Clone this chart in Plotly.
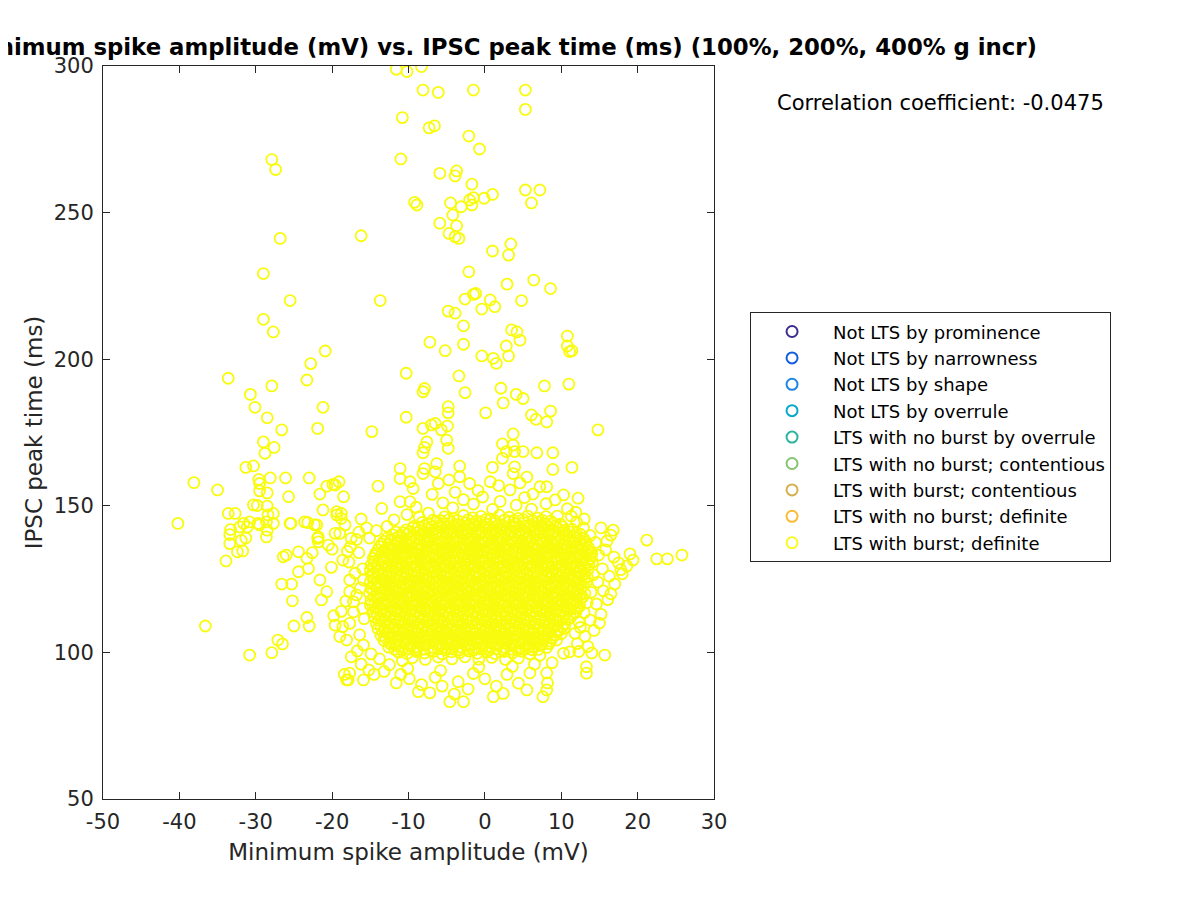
import plotly.graph_objects as go

# legend categories (only the last one has points in this plot)
categories = ['Not LTS by prominence', 'Not LTS by narrowness', 'Not LTS by shape',
              'Not LTS by overrule', 'LTS with no burst by overrule',
              'LTS with no burst; contentious', 'LTS with burst; contentious',
              'LTS with no burst; definite', 'LTS with burst; definite']
cat_colors = ['#3e2b8f', '#0f5fe0', '#1e86e0', '#0aa8c8', '#2cb59e',
              '#85c373', '#d6b04f', '#fcbb34', '#f9fb0e']

x_ticks = [-50, -40, -30, -20, -10, 0, 10, 20, 30]
x_tick_text = ['-50', '-40', '-30', '-20', '-10', '0', '10', '20', '30']
y_ticks = [50, 100, 150, 200, 250, 300]
corr_coef = -0.0475

# (amplitude mV, IPSC peak time ms)
upper_pts = [
    (-27.9, 268.1), (-27.4, 264.7), (-26.8, 241.2), (-16.2, 242.1), (-29.0, 229.2), (-25.5, 220.0),
    (-29.0, 213.6), (-27.7, 209.3), (-20.9, 202.8), (-22.8, 198.5), (-23.3, 192.9), (-33.6, 193.5),
    (-27.9, 190.9), (-30.7, 188.0), (-30.1, 183.6), (-21.2, 183.6), (-28.5, 180.0), (-13.7, 220.0),
    (-21.9, 176.4), (-26.6, 175.9), (-14.8, 175.3), (-29.0, 171.8), (-27.6, 169.9), (-28.8, 167.9),
    (-31.3, 163.1), (-30.3, 163.6),
    (-11.6, 298.9), (-10.2, 298.1), (-8.3, 299.8), (-8.1, 291.8), (-6.1, 291.0), (-1.5, 291.8),
    (5.3, 291.8), (5.3, 285.2), (-10.8, 282.4), (-7.3, 278.9), (-6.6, 279.6), (-2.1, 276.1),
    (-0.7, 271.7), (-11.0, 268.3), (-5.9, 263.4), (-3.7, 264.2), (-3.9, 262.5), (-1.7, 259.7),
    (5.3, 257.7), (7.2, 257.7), (6.1, 253.3), (-9.2, 253.5), (-8.9, 252.6), (-4.5, 253.3),
    (-3.1, 252.0), (-2.0, 254.3), (-1.5, 255.1), (-1.7, 252.6), (-0.1, 254.9), (1.0, 256.2),
    (-4.2, 249.2), (-5.9, 246.4), (-3.7, 245.5), (-4.7, 242.9), (-3.9, 241.8), (-3.4, 241.2),
    (1.0, 236.9), (3.4, 239.3), (3.1, 235.5), (-2.1, 229.8), (-2.6, 220.5), (-1.5, 222.1),
    (-1.2, 222.4), (0.7, 220.2), (1.3, 217.9), (-0.4, 217.1), (2.9, 225.6), (6.4, 227.0),
    (8.6, 224.1), (4.8, 220.0), (-4.8, 216.4), (-3.9, 215.7), (-2.8, 211.4), (-7.2, 205.8),
    (-5.2, 202.9), (-2.8, 205.1), (-0.4, 201.1), (2.8, 204.5), (3.5, 210.0), (4.2, 209.3),
    (4.6, 206.5), (3.1, 201.1), (1.1, 200.3), (1.5, 198.6), (10.8, 207.9), (10.8, 204.5),
    (11.4, 202.9), (11.1, 202.6), (-10.3, 195.2), (-3.4, 194.3), (-7.9, 190.0), (-8.1, 188.9),
    (-2.6, 188.6), (2.1, 190.1), (4.1, 188.0), (5.0, 186.6), (7.8, 190.9), (11.0, 191.5),
    (-10.3, 180.2), (-4.8, 183.8), (-4.8, 181.7), (0.1, 181.7), (2.4, 185.1), (6.1, 181.0),
    (6.7, 179.5), (8.1, 178.6), (8.6, 182.3), (-8.1, 176.4), (-7.0, 177.6), (-6.5, 178.1),
    (-5.7, 175.9), (-4.9, 177.2), (-7.6, 171.8), (-7.9, 169.9), (-8.1, 168.1), (-5.0, 172.4),
    (-4.8, 169.6), (14.8, 175.9), (3.7, 174.5), (2.3, 171.1), (3.7, 170.7), (2.8, 168.5),
    (3.9, 168.5), (5.0, 168.5), (6.8, 168.1), (8.9, 168.1), (2.3, 166.2), (1.0, 163.1),
    (3.9, 163.3), (3.7, 161.0), (8.9, 162.4), (11.4, 163.1), (-6.3, 164.4), (-7.9, 162.7),
    (-11.1, 162.7), (-8.1, 161.0), (-6.5, 161.6), (-3.3, 163.5),
]

mid_pts = [
    (-14.0, 156.7), (-13.5, 149.1), (-11.1, 159.3), (-11.1, 151.4), (-9.8, 158.2), (-9.4, 155.9),
    (-9.8, 151.4), (-9.0, 149.5), (-6.1, 157.6), (-4.7, 158.8), (-3.3, 159.9), (-2.0, 157.6),
    (0.7, 158.2), (-5.5, 151.0), (-4.2, 149.3), (-2.8, 152.1), (-1.5, 150.6), (-0.3, 153.0),
    (1.0, 148.8), (2.0, 151.5), (3.3, 155.4), (4.1, 150.2), (5.2, 152.8), (6.1, 148.9),
    (7.2, 156.5), (8.1, 156.5), (8.0, 150.7), (9.2, 152.0), (10.3, 153.7), (12.2, 152.6),
    (10.8, 149.0), (11.9, 147.8), (13.0, 145.5), (-7.4, 147.5), (-8.6, 146.2), (-10.2, 147.0),
    (-11.9, 145.2), (-12.8, 143.0), (-14.2, 141.5), (-15.1, 139.0), (5.5, 159.8), (6.3, 154.0),
    (-0.9, 155.2), (-3.9, 154.6), (-6.9, 153.9), (1.8, 156.9), (4.6, 157.8), (9.5, 146.5),
    (-16.2, 145.5), (-15.5, 142.5), (-16.8, 138.5),
]

left_pts = [
    (-38.1, 157.9), (-35.0, 155.4), (-40.2, 144.0), (-33.6, 147.4), (-32.7, 147.4), (-30.3, 150.3),
    (-29.8, 150.1), (-28.5, 149.9), (-33.3, 141.9), (-33.4, 140.2), (-31.6, 144.0), (-31.1, 142.8),
    (-29.5, 143.5), (-28.5, 141.7), (-27.7, 144.0), (-27.7, 147.4), (-25.4, 144.0), (-23.6, 144.5),
    (-23.2, 144.3), (-22.3, 143.5), (-21.2, 148.6), (-19.4, 146.9), (-18.8, 147.4), (-21.9, 138.9),
    (-19.6, 140.6), (-19.0, 140.6), (-17.5, 138.9), (-33.4, 137.1), (-31.9, 138.2), (-31.3, 139.0),
    (-28.6, 139.4), (-33.9, 131.2), (-32.4, 134.3), (-31.7, 134.6), (-32.1, 142.8), (-30.8, 144.5),
    (-29.7, 144.0), (-28.6, 144.5), (-28.4, 146.9), (-29.6, 159.0), (-28.1, 159.5), (-26.1, 159.5),
    (-23.0, 159.5), (-29.5, 157.6), (-29.5, 155.1), (-28.5, 154.4), (-25.7, 153.1), (-21.6, 154.0),
    (-20.7, 156.7), (-19.9, 157.3), (-19.1, 158.2), (-18.5, 153.1), (-26.0, 133.2), (-26.4, 132.6),
    (-24.4, 134.3), (-26.6, 123.3), (-25.3, 123.3), (-25.2, 117.6), (-24.4, 127.5), (-23.1, 128.6),
    (-22.6, 134.0), (-21.6, 124.7), (-20.7, 120.7), (-21.4, 117.9), (-20.1, 129.0), (-20.5, 136.6),
    (-20.0, 135.2), (-21.8, 137.7), (-18.6, 131.5), (-17.8, 130.8), (-36.6, 109.0), (-30.8, 99.1),
    (-27.9, 99.9), (-27.1, 104.2), (-26.5, 102.9), (-25.0, 109.0), (-23.3, 111.9), (-23.0, 109.0),
    (-19.6, 109.3), (-19.0, 105.4), (-18.6, 108.8), (-18.1, 104.2), (-17.5, 98.5), (-17.7, 92.9),
    (-18.1, 90.6), (-17.7, 109.9), (-17.2, 113.8), (-17.2, 117.2), (-16.8, 119.6), (-17.7, 120.7),
    (-17.7, 124.7), (-15.9, 124.7), (-18.3, 143.5), (-18.8, 145.7), (-19.4, 148.0), (-19.6, 157.1),
    (-25.5, 144.0), (-22.0, 143.5), (-21.8, 139.4), (-23.3, 132.1), (-16.5, 134.0), (-16.0, 128.5),
    (-16.3, 122.0), (-16.0, 115.0), (-15.8, 111.5), (-16.4, 106.0), (-15.9, 102.5), (-16.2, 96.0),
    (-15.2, 94.0), (-18.4, 92.5), (-16.7, 100.5), (-17.0, 127.0), (-18.2, 117.5), (-18.8, 114.0),
    (-19.8, 112.5), (-16.5, 141.0), (-17.6, 136.0), (-18.0, 134.5),
]

bottom_pts = [
    (-17.9, 90.6), (-15.9, 90.6), (-14.5, 92.5), (-13.2, 93.5), (-12.5, 95.8), (-11.6, 89.6),
    (-11.0, 92.5), (-10.1, 94.5), (-9.9, 91.0), (-8.7, 86.6), (-8.3, 89.0), (-7.2, 86.2),
    (-6.5, 91.5), (-5.8, 93.8), (-5.6, 88.5), (-4.6, 83.2), (-4.0, 85.8), (-3.5, 90.0),
    (-2.8, 83.2), (-2.2, 87.5), (-1.5, 92.8), (-0.8, 95.0), (0.0, 91.0), (1.1, 84.9),
    (1.5, 88.5), (2.4, 86.0), (2.9, 92.5), (3.6, 95.2), (4.4, 89.5), (5.5, 87.2),
    (5.9, 93.0), (6.5, 96.0), (7.6, 84.9), (8.1, 87.2), (8.2, 89.6), (8.1, 93.0),
    (7.2, 99.0), (8.8, 96.5), (10.3, 99.7), (11.1, 100.2), (12.1, 103.0), (13.3, 95.1),
    (13.3, 92.9), (14.0, 99.8), (15.7, 99.1), (-13.8, 97.8), (-10.8, 97.2), (-14.9, 99.5),
]

right_pts = [
    (21.2, 138.3), (22.5, 131.9), (23.9, 131.9), (25.8, 133.2), (19.0, 133.6), (19.4, 131.5),
    (18.6, 129.5), (17.0, 123.3), (16.8, 141.7), (16.5, 140.0), (16.0, 138.0), (15.2, 142.5),
    (14.5, 137.5), (15.8, 135.0), (16.9, 132.5), (17.5, 130.5), (15.4, 128.5), (16.3, 126.0),
    (14.8, 124.0), (15.5, 121.0), (16.1, 118.0), (14.6, 116.5), (15.2, 113.0), (13.8, 111.0),
    (14.3, 107.5), (13.1, 105.5), (12.5, 108.5), (11.8, 106.5), (13.5, 102.0), (12.3, 100.3),
    (14.2, 126.5), (13.9, 120.5), (13.4, 117.0), (13.0, 113.5), (12.3, 110.5), (14.1, 130.8),
    (14.9, 133.2), (13.8, 139.8), (12.9, 142.5), (12.0, 144.5), (11.3, 146.5), (17.8, 128.2),
    (18.0, 126.8), (16.5, 120.0), (15.0, 110.0),
]

# dense centre of the cloud (rows read at roughly even ms steps)
core_pts = [
    (-5.3, 146.2), (-4.1, 145.6), (-2.8, 146.7), (-1.6, 145.9), (-0.5, 146.4), (0.7, 145.5), (1.9, 146.8),
    (3.2, 146.1), (4.4, 145.7), (5.6, 146.5), (6.9, 145.8), (8.0, 146.3),
    (-8.2, 144.3), (-7.3, 143.7), (-6.3, 144.6), (-5.4, 143.9), (-4.4, 144.4), (-3.5, 143.6), (-2.5, 144.2),
    (-1.6, 143.8), (-0.6, 144.5), (0.3, 143.7), (1.3, 144.1), (2.2, 143.5), (3.2, 144.6), (4.1, 143.9),
    (5.1, 144.3), (6.0, 143.6), (7.0, 144.4), (7.9, 143.8), (8.9, 144.2), (9.9, 143.7),
    (-10.3, 141.8), (-9.4, 142.4), (-8.5, 141.6), (-7.5, 142.2), (-6.6, 141.9), (-5.6, 142.5), (-4.7, 141.7),
    (-3.8, 142.3), (-2.8, 141.5), (-1.9, 142.1), (-0.9, 141.8), (0.0, 142.4), (1.0, 141.6), (1.9, 142.2),
    (2.8, 141.9), (3.8, 142.5), (4.7, 141.7), (5.7, 142.3), (6.6, 141.5), (7.6, 142.1), (8.5, 141.8),
    (9.5, 142.4), (10.4, 141.6), (11.4, 142.0),
    (-12.1, 140.2), (-11.2, 139.7), (-10.2, 140.4), (-9.3, 139.8), (-8.3, 140.1), (-7.4, 139.5), (-6.4, 140.3),
    (-5.5, 139.9), (-4.5, 140.5), (-3.6, 139.6), (-2.6, 140.2), (-1.7, 139.8), (-0.7, 140.4), (0.2, 139.7),
    (1.2, 140.1), (2.1, 139.5), (3.1, 140.3), (4.0, 139.9), (5.0, 140.5), (5.9, 139.6), (6.9, 140.2),
    (7.8, 139.8), (8.8, 140.4), (9.7, 139.7), (10.7, 140.1), (11.6, 139.6), (12.5, 140.3),
    (-13.2, 137.9), (-12.3, 138.4), (-11.3, 137.6), (-10.4, 138.2), (-9.4, 137.8), (-8.5, 138.5), (-7.5, 137.7),
    (-6.6, 138.3), (-5.6, 137.5), (-4.7, 138.1), (-3.7, 137.8), (-2.8, 138.4), (-1.8, 137.6), (-0.9, 138.2),
    (0.1, 137.9), (1.0, 138.5), (2.0, 137.7), (2.9, 138.3), (3.9, 137.5), (4.8, 138.1), (5.8, 137.8),
    (6.7, 138.4), (7.7, 137.6), (8.6, 138.2), (9.6, 137.9), (10.5, 138.5), (11.5, 137.7), (12.4, 138.3),
    (13.2, 137.8),
    (-13.8, 136.1), (-12.8, 135.6), (-11.9, 136.3), (-10.9, 135.8), (-10.0, 136.4), (-9.0, 135.5), (-8.1, 136.2),
    (-7.1, 135.9), (-6.2, 136.5), (-5.2, 135.7), (-4.3, 136.1), (-3.3, 135.6), (-2.4, 136.3), (-1.4, 135.8),
    (-0.5, 136.4), (0.5, 135.5), (1.4, 136.2), (2.4, 135.9), (3.3, 136.5), (4.3, 135.7), (5.2, 136.1),
    (6.2, 135.6), (7.1, 136.3), (8.1, 135.8), (9.0, 136.4), (10.0, 135.5), (10.9, 136.2), (11.9, 135.9),
    (12.8, 136.4), (13.6, 135.7),
    (-14.3, 133.8), (-13.4, 134.4), (-12.4, 133.6), (-11.5, 134.2), (-10.5, 133.9), (-9.6, 134.5), (-8.6, 133.7),
    (-7.7, 134.3), (-6.7, 133.5), (-5.8, 134.1), (-4.8, 133.8), (-3.9, 134.4), (-2.9, 133.6), (-2.0, 134.2),
    (-1.0, 133.9), (-0.1, 134.5), (0.9, 133.7), (1.8, 134.3), (2.8, 133.5), (3.7, 134.1), (4.7, 133.8),
    (5.6, 134.4), (6.6, 133.6), (7.5, 134.2), (8.5, 133.9), (9.4, 134.5), (10.4, 133.7), (11.3, 134.3),
    (12.3, 133.5), (13.2, 134.1), (14.0, 133.8),
    (-14.6, 132.1), (-13.7, 131.6), (-12.7, 132.3), (-11.8, 131.8), (-10.8, 132.4), (-9.9, 131.5), (-8.9, 132.2),
    (-8.0, 131.9), (-7.0, 132.5), (-6.1, 131.7), (-5.1, 132.1), (-4.2, 131.6), (-3.2, 132.3), (-2.3, 131.8),
    (-1.3, 132.4), (-0.4, 131.5), (0.6, 132.2), (1.5, 131.9), (2.5, 132.5), (3.4, 131.7), (4.4, 132.1),
    (5.3, 131.6), (6.3, 132.3), (7.2, 131.8), (8.2, 132.4), (9.1, 131.5), (10.1, 132.2), (11.0, 131.9),
    (12.0, 132.5), (12.9, 131.7), (13.9, 132.1),
    (-14.9, 129.8), (-14.0, 130.4), (-13.0, 129.6), (-12.1, 130.2), (-11.1, 129.9), (-10.2, 130.5), (-9.2, 129.7),
    (-8.3, 130.3), (-7.3, 129.5), (-6.4, 130.1), (-5.4, 129.8), (-4.5, 130.4), (-3.5, 129.6), (-2.6, 130.2),
    (-1.6, 129.9), (-0.7, 130.5), (0.3, 129.7), (1.2, 130.3), (2.2, 129.5), (3.1, 130.1), (4.1, 129.8),
    (5.0, 130.4), (6.0, 129.6), (6.9, 130.2), (7.9, 129.9), (8.8, 130.5), (9.8, 129.7), (10.7, 130.3),
    (11.7, 129.5), (12.6, 130.1), (13.6, 129.8),
    (-15.0, 128.1), (-14.1, 127.6), (-13.1, 128.3), (-12.2, 127.8), (-11.2, 128.4), (-10.3, 127.5), (-9.3, 128.2),
    (-8.4, 127.9), (-7.4, 128.5), (-6.5, 127.7), (-5.5, 128.1), (-4.6, 127.6), (-3.6, 128.3), (-2.7, 127.8),
    (-1.7, 128.4), (-0.8, 127.5), (0.2, 128.2), (1.1, 127.9), (2.1, 128.5), (3.0, 127.7), (4.0, 128.1),
    (4.9, 127.6), (5.9, 128.3), (6.8, 127.8), (7.8, 128.4), (8.7, 127.5), (9.7, 128.2), (10.6, 127.9),
    (11.6, 128.5), (12.5, 127.7), (13.5, 128.1),
    (-14.8, 125.8), (-13.9, 126.4), (-12.9, 125.6), (-12.0, 126.2), (-11.0, 125.9), (-10.1, 126.5), (-9.1, 125.7),
    (-8.2, 126.3), (-7.2, 125.5), (-6.3, 126.1), (-5.3, 125.8), (-4.4, 126.4), (-3.4, 125.6), (-2.5, 126.2),
    (-1.5, 125.9), (-0.6, 126.5), (0.4, 125.7), (1.3, 126.3), (2.3, 125.5), (3.2, 126.1), (4.2, 125.8),
    (5.1, 126.4), (6.1, 125.6), (7.0, 126.2), (8.0, 125.9), (8.9, 126.5), (9.9, 125.7), (10.8, 126.3),
    (11.8, 125.5), (12.7, 126.1), (13.4, 125.8),
    (-15.0, 124.1), (-14.1, 123.6), (-13.1, 124.3), (-12.2, 123.8), (-11.2, 124.4), (-10.3, 123.5), (-9.3, 124.2),
    (-8.4, 123.9), (-7.4, 124.5), (-6.5, 123.7), (-5.5, 124.1), (-4.6, 123.6), (-3.6, 124.3), (-2.7, 123.8),
    (-1.7, 124.4), (-0.8, 123.5), (0.2, 124.2), (1.1, 123.9), (2.1, 124.5), (3.0, 123.7), (4.0, 124.1),
    (4.9, 123.6), (5.9, 124.3), (6.8, 123.8), (7.8, 124.4), (8.7, 123.5), (9.7, 124.2), (10.6, 123.9),
    (11.6, 124.5), (12.5, 123.7), (13.3, 124.1),
    (-14.9, 121.8), (-14.0, 122.4), (-13.0, 121.6), (-12.1, 122.2), (-11.1, 121.9), (-10.2, 122.5), (-9.2, 121.7),
    (-8.3, 122.3), (-7.3, 121.5), (-6.4, 122.1), (-5.4, 121.8), (-4.5, 122.4), (-3.5, 121.6), (-2.6, 122.2),
    (-1.6, 121.9), (-0.7, 122.5), (0.3, 121.7), (1.2, 122.3), (2.2, 121.5), (3.1, 122.1), (4.1, 121.8),
    (5.0, 122.4), (6.0, 121.6), (6.9, 122.2), (7.9, 121.9), (8.8, 122.5), (9.8, 121.7), (10.7, 122.3),
    (11.7, 121.5), (12.6, 122.1),
    (-15.1, 120.1), (-14.2, 119.6), (-13.2, 120.3), (-12.3, 119.8), (-11.3, 120.4), (-10.4, 119.5), (-9.4, 120.2),
    (-8.5, 119.9), (-7.5, 120.5), (-6.6, 119.7), (-5.6, 120.1), (-4.7, 119.6), (-3.7, 120.3), (-2.8, 119.8),
    (-1.8, 120.4), (-0.9, 119.5), (0.1, 120.2), (1.0, 119.9), (2.0, 120.5), (2.9, 119.7), (3.9, 120.1),
    (4.8, 119.6), (5.8, 120.3), (6.7, 119.8), (7.7, 120.4), (8.6, 119.5), (9.6, 120.2), (10.5, 119.9),
    (11.5, 120.5), (12.4, 119.7), (13.1, 120.1),
    (-14.9, 117.8), (-14.0, 118.4), (-13.0, 117.6), (-12.1, 118.2), (-11.1, 117.9), (-10.2, 118.5), (-9.2, 117.7),
    (-8.3, 118.3), (-7.3, 117.5), (-6.4, 118.1), (-5.4, 117.8), (-4.5, 118.4), (-3.5, 117.6), (-2.6, 118.2),
    (-1.6, 117.9), (-0.7, 118.5), (0.3, 117.7), (1.2, 118.3), (2.2, 117.5), (3.1, 118.1), (4.1, 117.8),
    (5.0, 118.4), (6.0, 117.6), (6.9, 118.2), (7.9, 117.9), (8.8, 118.5), (9.8, 117.7), (10.7, 118.3),
    (11.7, 117.5), (12.5, 118.1),
    (-15.0, 116.1), (-14.1, 115.6), (-13.1, 116.3), (-12.2, 115.8), (-11.2, 116.4), (-10.3, 115.5), (-9.3, 116.2),
    (-8.4, 115.9), (-7.4, 116.5), (-6.5, 115.7), (-5.5, 116.1), (-4.6, 115.6), (-3.6, 116.3), (-2.7, 115.8),
    (-1.7, 116.4), (-0.8, 115.5), (0.2, 116.2), (1.1, 115.9), (2.1, 116.5), (3.0, 115.7), (4.0, 116.1),
    (4.9, 115.6), (5.9, 116.3), (6.8, 115.8), (7.8, 116.4), (8.7, 115.5), (9.7, 116.2), (10.6, 115.9),
    (11.6, 116.5), (12.4, 115.7),
    (-14.6, 113.8), (-13.7, 114.4), (-12.7, 113.6), (-11.8, 114.2), (-10.8, 113.9), (-9.9, 114.5), (-8.9, 113.7),
    (-8.0, 114.3), (-7.0, 113.5), (-6.1, 114.1), (-5.1, 113.8), (-4.2, 114.4), (-3.2, 113.6), (-2.3, 114.2),
    (-1.3, 113.9), (-0.4, 114.5), (0.6, 113.7), (1.5, 114.3), (2.5, 113.5), (3.4, 114.1), (4.4, 113.8),
    (5.3, 114.4), (6.3, 113.6), (7.2, 114.2), (8.2, 113.9), (9.1, 114.5), (10.1, 113.7), (11.0, 114.3),
    (11.9, 113.6),
    (-14.5, 112.1), (-13.6, 111.6), (-12.6, 112.3), (-11.7, 111.8), (-10.7, 112.4), (-9.8, 111.5), (-8.8, 112.2),
    (-7.9, 111.9), (-6.9, 112.5), (-6.0, 111.7), (-5.0, 112.1), (-4.1, 111.6), (-3.1, 112.3), (-2.2, 111.8),
    (-1.2, 112.4), (-0.3, 111.5), (0.7, 112.2), (1.6, 111.9), (2.6, 112.5), (3.5, 111.7), (4.5, 112.1),
    (5.4, 111.6), (6.4, 112.3), (7.3, 111.8), (8.3, 112.4), (9.2, 111.5), (10.2, 112.2), (11.2, 111.9),
    (-14.2, 109.8), (-13.3, 110.4), (-12.3, 109.6), (-11.4, 110.2), (-10.4, 109.9), (-9.5, 110.5), (-8.5, 109.7),
    (-7.6, 110.3), (-6.6, 109.5), (-5.7, 110.1), (-4.7, 109.8), (-3.8, 110.4), (-2.8, 109.6), (-1.9, 110.2),
    (-0.9, 109.9), (0.0, 110.5), (1.0, 109.7), (1.9, 110.3), (2.9, 109.5), (3.8, 110.1), (4.8, 109.8),
    (5.7, 110.4), (6.7, 109.6), (7.6, 110.2), (8.6, 109.9), (9.5, 110.5), (10.5, 109.7),
    (-14.0, 108.1), (-13.1, 107.6), (-12.1, 108.3), (-11.2, 107.8), (-10.2, 108.4), (-9.3, 107.5), (-8.3, 108.2),
    (-7.4, 107.9), (-6.4, 108.5), (-5.5, 107.7), (-4.5, 108.1), (-3.6, 107.6), (-2.6, 108.3), (-1.7, 107.8),
    (-0.7, 108.4), (0.2, 107.5), (1.2, 108.2), (2.1, 107.9), (3.1, 108.5), (4.0, 107.7), (5.0, 108.1),
    (5.9, 107.6), (6.9, 108.3), (7.8, 107.8), (8.8, 108.4), (9.7, 107.5), (10.4, 108.2),
    (-13.6, 105.8), (-12.7, 106.4), (-11.7, 105.6), (-10.8, 106.2), (-9.8, 105.9), (-8.9, 106.5), (-7.9, 105.7),
    (-7.0, 106.3), (-6.0, 105.5), (-5.1, 106.1), (-4.1, 105.8), (-3.2, 106.4), (-2.2, 105.6), (-1.3, 106.2),
    (-0.3, 105.9), (0.6, 106.5), (1.6, 105.7), (2.5, 106.3), (3.5, 105.5), (4.4, 106.1), (5.4, 105.8),
    (6.3, 106.4), (7.3, 105.6), (8.2, 106.2), (9.2, 105.9), (10.0, 106.4),
    (-13.2, 104.1), (-12.3, 103.6), (-11.3, 104.3), (-10.4, 103.8), (-9.4, 104.4), (-8.5, 103.5), (-7.5, 104.2),
    (-6.6, 103.9), (-5.6, 104.5), (-4.7, 103.7), (-3.7, 104.1), (-2.8, 103.6), (-1.8, 104.3), (-0.9, 103.8),
    (0.1, 104.4), (1.0, 103.5), (2.0, 104.2), (2.9, 103.9), (3.9, 104.5), (4.8, 103.7), (5.8, 104.1),
    (6.7, 103.6), (7.7, 104.3), (8.6, 103.8), (9.4, 104.2),
    (-12.6, 101.8), (-11.7, 102.4), (-10.7, 101.6), (-9.8, 102.2), (-8.8, 101.9), (-7.9, 102.5), (-6.9, 101.7),
    (-6.0, 102.3), (-5.0, 101.5), (-4.1, 102.1), (-3.1, 101.8), (-2.2, 102.4), (-1.2, 101.6), (-0.3, 102.2),
    (0.7, 101.9), (1.6, 102.5), (2.6, 101.7), (3.5, 102.3), (4.5, 101.5), (5.4, 102.1), (6.4, 101.8),
    (7.3, 102.4), (8.1, 101.7),
    (-11.3, 100.1), (-10.2, 99.6), (-9.0, 100.3), (-7.9, 99.8), (-6.7, 100.4), (-5.6, 99.5), (-4.4, 100.2),
    (-3.3, 99.9), (-2.1, 100.5), (-1.0, 99.7), (0.2, 100.1), (1.3, 99.6), (2.5, 100.3), (3.6, 99.8),
    (4.8, 100.4), (5.9, 99.5),
    (-9.5, 98.2), (-7.8, 97.6), (-6.1, 98.4), (-4.3, 97.8), (-2.6, 98.5), (-0.8, 97.7), (0.9, 98.3),
    (2.7, 97.6), (4.4, 98.1),
]

# second, interleaved set of points in the same dense centre
core_pts_b = [
    (-6.8, 145.1), (-5.8, 144.9), (-4.7, 145.3), (-3.6, 145.0), (-2.2, 145.2), (-1.1, 144.8), (0.1, 145.3),
    (1.3, 144.9), (2.6, 145.2), (3.8, 145.0), (5.0, 145.3), (6.3, 144.9), (7.5, 145.1), (8.6, 144.8),
    (-9.3, 143.0), (-8.7, 142.8), (-7.9, 143.2), (-6.9, 142.9), (-6.0, 143.1), (-5.0, 142.7), (-4.1, 143.2),
    (-3.1, 142.9), (-2.2, 143.1), (-1.2, 142.8), (-0.3, 143.2), (0.7, 142.9), (1.6, 143.1), (2.6, 142.7),
    (3.5, 143.2), (4.5, 142.9), (5.4, 143.1), (6.4, 142.8), (7.3, 143.2), (8.3, 142.9), (9.2, 143.1),
    (10.2, 142.8),
    (-11.6, 141.0), (-10.7, 140.8), (-9.8, 141.2), (-8.8, 140.9), (-7.9, 141.1), (-6.9, 140.7), (-6.0, 141.2),
    (-5.0, 140.9), (-4.1, 141.1), (-3.1, 140.8), (-2.2, 141.2), (-1.2, 140.9), (-0.3, 141.1), (0.7, 140.7),
    (1.6, 141.2), (2.6, 140.9), (3.5, 141.1), (4.5, 140.8), (5.4, 141.2), (6.4, 140.9), (7.3, 141.1),
    (8.3, 140.7), (9.2, 141.2), (10.2, 140.9), (11.1, 141.1), (12.0, 140.8),
    (-12.8, 139.0), (-11.8, 138.8), (-10.9, 139.2), (-9.9, 138.9), (-9.0, 139.1), (-8.0, 138.7), (-7.1, 139.2),
    (-6.1, 138.9), (-5.2, 139.1), (-4.2, 138.8), (-3.3, 139.2), (-2.3, 138.9), (-1.4, 139.1), (-0.4, 138.7),
    (0.5, 139.2), (1.5, 138.9), (2.4, 139.1), (3.4, 138.8), (4.3, 139.2), (5.3, 138.9), (6.2, 139.1),
    (7.2, 138.7), (8.1, 139.2), (9.1, 138.9), (10.0, 139.1), (11.0, 138.8), (11.9, 139.2), (12.9, 138.9),
    (-13.5, 137.0), (-12.6, 136.8), (-11.6, 137.2), (-10.7, 136.9), (-9.7, 137.1), (-8.8, 136.7), (-7.8, 137.2),
    (-6.9, 136.9), (-5.9, 137.1), (-5.0, 136.8), (-4.0, 137.2), (-3.1, 136.9), (-2.1, 137.1), (-1.2, 136.7),
    (-0.2, 137.2), (0.7, 136.9), (1.7, 137.1), (2.6, 136.8), (3.6, 137.2), (4.5, 136.9), (5.5, 137.1),
    (6.4, 136.7), (7.4, 137.2), (8.3, 136.9), (9.3, 137.1), (10.2, 136.8), (11.2, 137.2), (12.1, 136.9),
    (13.1, 137.1),
    (-14.0, 135.0), (-13.1, 134.8), (-12.1, 135.2), (-11.2, 134.9), (-10.2, 135.1), (-9.3, 134.7), (-8.3, 135.2),
    (-7.4, 134.9), (-6.4, 135.1), (-5.5, 134.8), (-4.5, 135.2), (-3.6, 134.9), (-2.6, 135.1), (-1.7, 134.7),
    (-0.7, 135.2), (0.2, 134.9), (1.2, 135.1), (2.1, 134.8), (3.1, 135.2), (4.0, 134.9), (5.0, 135.1),
    (5.9, 134.7), (6.9, 135.2), (7.8, 134.9), (8.8, 135.1), (9.7, 134.8), (10.7, 135.2), (11.6, 134.9),
    (12.6, 135.1), (13.5, 134.8),
    (-14.4, 133.0), (-13.5, 132.8), (-12.5, 133.2), (-11.6, 132.9), (-10.6, 133.1), (-9.7, 132.7), (-8.7, 133.2),
    (-7.8, 132.9), (-6.8, 133.1), (-5.9, 132.8), (-4.9, 133.2), (-4.0, 132.9), (-3.0, 133.1), (-2.1, 132.7),
    (-1.1, 133.2), (-0.2, 132.9), (0.8, 133.1), (1.7, 132.8), (2.7, 133.2), (3.6, 132.9), (4.6, 133.1),
    (5.5, 132.7), (6.5, 133.2), (7.4, 132.9), (8.4, 133.1), (9.3, 132.8), (10.3, 133.2), (11.2, 132.9),
    (12.2, 133.1), (13.1, 132.8), (13.9, 133.0),
    (-14.5, 131.0), (-13.2, 130.8), (-12.2, 131.2), (-11.3, 130.9), (-10.3, 131.1), (-9.4, 130.7), (-8.4, 131.2),
    (-7.5, 130.9), (-6.5, 131.1), (-5.6, 130.8), (-4.6, 131.2), (-3.7, 130.9), (-2.7, 131.1), (-1.8, 130.7),
    (-0.8, 131.2), (0.1, 130.9), (1.1, 131.1), (2.0, 130.8), (3.0, 131.2), (3.9, 130.9), (4.9, 131.1),
    (5.8, 130.7), (6.8, 131.2), (7.7, 130.9), (8.7, 131.1), (9.6, 130.8), (10.6, 131.2), (11.5, 130.9),
    (12.5, 131.1), (13.4, 130.8),
    (-14.5, 129.0), (-13.6, 128.8), (-12.6, 129.2), (-11.7, 128.9), (-10.7, 129.1), (-9.8, 128.7), (-8.8, 129.2),
    (-7.9, 128.9), (-6.9, 129.1), (-6.0, 128.8), (-5.0, 129.2), (-4.1, 128.9), (-3.1, 129.1), (-2.2, 128.7),
    (-1.2, 129.2), (-0.3, 128.9), (0.7, 129.1), (1.6, 128.8), (2.6, 129.2), (3.5, 128.9), (4.5, 129.1),
    (5.4, 128.7), (6.4, 129.2), (7.3, 128.9), (8.3, 129.1), (9.2, 128.8), (10.2, 129.2), (11.1, 128.9),
    (12.1, 129.1), (13.0, 128.8),
    (-14.6, 127.0), (-13.5, 126.8), (-12.5, 127.2), (-11.6, 126.9), (-10.6, 127.1), (-9.7, 126.7), (-8.7, 127.2),
    (-7.8, 126.9), (-6.8, 127.1), (-5.9, 126.8), (-4.9, 127.2), (-4.0, 126.9), (-3.0, 127.1), (-2.1, 126.7),
    (-1.1, 127.2), (-0.2, 126.9), (0.8, 127.1), (1.7, 126.8), (2.7, 127.2), (3.6, 126.9), (4.6, 127.1),
    (5.5, 126.7), (6.5, 127.2), (7.4, 126.9), (8.4, 127.1), (9.3, 126.8), (10.3, 127.2), (11.2, 126.9),
    (12.2, 127.1), (13.1, 126.8),
    (-14.5, 125.0), (-13.4, 124.8), (-12.4, 125.2), (-11.5, 124.9), (-10.5, 125.1), (-9.6, 124.7), (-8.6, 125.2),
    (-7.7, 124.9), (-6.7, 125.1), (-5.8, 124.8), (-4.8, 125.2), (-3.9, 124.9), (-2.9, 125.1), (-2.0, 124.7),
    (-1.0, 125.2), (-0.1, 124.9), (0.9, 125.1), (1.8, 124.8), (2.8, 125.2), (3.7, 124.9), (4.7, 125.1),
    (5.6, 124.7), (6.6, 125.2), (7.5, 124.9), (8.5, 125.1), (9.4, 124.8), (10.4, 125.2), (11.3, 124.9),
    (12.3, 125.1), (13.0, 124.8),
    (-14.5, 123.0), (-13.6, 122.8), (-12.6, 123.2), (-11.7, 122.9), (-10.7, 123.1), (-9.8, 122.7), (-8.8, 123.2),
    (-7.9, 122.9), (-6.9, 123.1), (-6.0, 122.8), (-5.0, 123.2), (-4.1, 122.9), (-3.1, 123.1), (-2.2, 122.7),
    (-1.2, 123.2), (-0.3, 122.9), (0.7, 123.1), (1.6, 122.8), (2.6, 123.2), (3.5, 122.9), (4.5, 123.1),
    (5.4, 122.7), (6.4, 123.2), (7.3, 122.9), (8.3, 123.1), (9.2, 122.8), (10.2, 123.2), (11.1, 122.9),
    (12.1, 123.1), (12.9, 122.8),
    (-14.6, 121.0), (-13.5, 120.8), (-12.5, 121.2), (-11.6, 120.9), (-10.6, 121.1), (-9.7, 120.7), (-8.7, 121.2),
    (-7.8, 120.9), (-6.8, 121.1), (-5.9, 120.8), (-4.9, 121.2), (-4.0, 120.9), (-3.0, 121.1), (-2.1, 120.7),
    (-1.1, 121.2), (-0.2, 120.9), (0.8, 121.1), (1.7, 120.8), (2.7, 121.2), (3.6, 120.9), (4.6, 121.1),
    (5.5, 120.7), (6.5, 121.2), (7.4, 120.9), (8.4, 121.1), (9.3, 120.8), (10.3, 121.2), (11.2, 120.9),
    (12.2, 121.1),
    (-14.5, 119.0), (-13.7, 118.8), (-12.7, 119.2), (-11.8, 118.9), (-10.8, 119.1), (-9.9, 118.7), (-8.9, 119.2),
    (-8.0, 118.9), (-7.0, 119.1), (-6.1, 118.8), (-5.1, 119.2), (-4.2, 118.9), (-3.2, 119.1), (-2.3, 118.7),
    (-1.3, 119.2), (-0.4, 118.9), (0.6, 119.1), (1.5, 118.8), (2.5, 119.2), (3.4, 118.9), (4.4, 119.1),
    (5.3, 118.7), (6.3, 119.2), (7.2, 118.9), (8.2, 119.1), (9.1, 118.8), (10.1, 119.2), (11.0, 118.9),
    (12.0, 119.1), (12.8, 118.8),
    (-14.4, 117.0), (-13.5, 116.8), (-12.5, 117.2), (-11.6, 116.9), (-10.6, 117.1), (-9.7, 116.7), (-8.7, 117.2),
    (-7.8, 116.9), (-6.8, 117.1), (-5.9, 116.8), (-4.9, 117.2), (-4.0, 116.9), (-3.0, 117.1), (-2.1, 116.7),
    (-1.1, 117.2), (-0.2, 116.9), (0.8, 117.1), (1.7, 116.8), (2.7, 117.2), (3.6, 116.9), (4.6, 117.1),
    (5.5, 116.7), (6.5, 117.2), (7.4, 116.9), (8.4, 117.1), (9.3, 116.8), (10.3, 117.2), (11.2, 116.9),
    (12.1, 117.1),
    (-14.3, 115.0), (-13.4, 114.8), (-12.4, 115.2), (-11.5, 114.9), (-10.5, 115.1), (-9.6, 114.7), (-8.6, 115.2),
    (-7.7, 114.9), (-6.7, 115.1), (-5.8, 114.8), (-4.8, 115.2), (-3.9, 114.9), (-2.9, 115.1), (-2.0, 114.7),
    (-1.0, 115.2), (-0.1, 114.9), (0.9, 115.1), (1.8, 114.8), (2.8, 115.2), (3.7, 114.9), (4.7, 115.1),
    (5.6, 114.7), (6.6, 115.2), (7.5, 114.9), (8.5, 115.1), (9.4, 114.8), (10.4, 115.2), (11.3, 114.9),
    (12.1, 115.1),
    (-14.1, 113.0), (-13.2, 112.8), (-12.2, 113.2), (-11.3, 112.9), (-10.3, 113.1), (-9.4, 112.7), (-8.4, 113.2),
    (-7.5, 112.9), (-6.5, 113.1), (-5.6, 112.8), (-4.6, 113.2), (-3.7, 112.9), (-2.7, 113.1), (-1.8, 112.7),
    (-0.8, 113.2), (0.1, 112.9), (1.1, 113.1), (2.0, 112.8), (3.0, 113.2), (3.9, 112.9), (4.9, 113.1),
    (5.8, 112.7), (6.8, 113.2), (7.7, 112.9), (8.7, 113.1), (9.6, 112.8), (10.6, 113.2), (11.5, 112.9),
    (-13.9, 111.0), (-13.0, 110.8), (-12.0, 111.2), (-11.1, 110.9), (-10.1, 111.1), (-9.2, 110.7), (-8.2, 111.2),
    (-7.3, 110.9), (-6.3, 111.1), (-5.4, 110.8), (-4.4, 111.2), (-3.5, 110.9), (-2.5, 111.1), (-1.6, 110.7),
    (-0.6, 111.2), (0.3, 110.9), (1.3, 111.1), (2.2, 110.8), (3.2, 111.2), (4.1, 110.9), (5.1, 111.1),
    (6.0, 110.7), (7.0, 111.2), (7.9, 110.9), (8.9, 111.1), (9.8, 110.8), (10.8, 111.2),
    (-13.6, 109.0), (-12.7, 108.8), (-11.7, 109.2), (-10.8, 108.9), (-9.8, 109.1), (-8.9, 108.7), (-7.9, 109.2),
    (-7.0, 108.9), (-6.0, 109.1), (-5.1, 108.8), (-4.1, 109.2), (-3.2, 108.9), (-2.2, 109.1), (-1.3, 108.7),
    (-0.3, 109.2), (0.6, 108.9), (1.6, 109.1), (2.5, 108.8), (3.5, 109.2), (4.4, 108.9), (5.4, 109.1),
    (6.3, 108.7), (7.3, 109.2), (8.2, 108.9), (9.2, 109.1), (10.1, 108.8),
    (-13.4, 107.0), (-12.5, 106.8), (-11.5, 107.2), (-10.6, 106.9), (-9.6, 107.1), (-8.7, 106.7), (-7.7, 107.2),
    (-6.8, 106.9), (-5.8, 107.1), (-4.9, 106.8), (-3.9, 107.2), (-3.0, 106.9), (-2.0, 107.1), (-1.1, 106.7),
    (-0.1, 107.2), (0.8, 106.9), (1.8, 107.1), (2.7, 106.8), (3.7, 107.2), (4.6, 106.9), (5.6, 107.1),
    (6.5, 106.7), (7.5, 107.2), (8.4, 106.9), (9.4, 107.1),
    (-13.0, 105.0), (-12.1, 104.8), (-11.1, 105.2), (-10.2, 104.9), (-9.2, 105.1), (-8.3, 104.7), (-7.3, 105.2),
    (-6.4, 104.9), (-5.4, 105.1), (-4.5, 104.8), (-3.5, 105.2), (-2.6, 104.9), (-1.6, 105.1), (-0.7, 104.7),
    (0.3, 105.2), (1.2, 104.9), (2.2, 105.1), (3.1, 104.8), (4.1, 105.2), (5.0, 104.9), (6.0, 105.1),
    (6.9, 104.7), (7.9, 105.2), (8.8, 104.9),
    (-12.4, 103.0), (-11.5, 102.8), (-10.5, 103.2), (-9.6, 102.9), (-8.6, 103.1), (-7.7, 102.7), (-6.7, 103.2),
    (-5.8, 102.9), (-4.8, 103.1), (-3.9, 102.8), (-2.9, 103.2), (-2.0, 102.9), (-1.0, 103.1), (-0.1, 102.7),
    (0.9, 103.2), (1.8, 102.9), (2.8, 103.1), (3.7, 102.8), (4.7, 103.2), (5.6, 102.9), (6.6, 103.1),
    (7.5, 102.8), (8.4, 103.0),
    (-11.8, 101.0), (-10.9, 100.8), (-9.9, 101.2), (-9.0, 100.9), (-8.0, 101.1), (-7.1, 100.7), (-6.1, 101.2),
    (-5.2, 100.9), (-4.2, 101.1), (-3.3, 100.8), (-2.3, 101.2), (-1.4, 100.9), (-0.4, 101.1), (0.5, 100.7),
    (1.5, 101.2), (2.4, 100.9), (3.4, 101.1), (4.3, 100.8), (5.3, 101.2), (6.2, 100.9), (7.0, 101.0),
]

all_pts = upper_pts + mid_pts + left_pts + bottom_pts + right_pts + core_pts + core_pts_b
amp = [p[0] for p in all_pts]
peak = [p[1] for p in all_pts]

axis_col = '#262626'
font_fam = 'DejaVu Sans'
pg = 8  # the page body adds an 8px offset around the figure

fig = go.Figure()
for name, col in zip(categories[:-1], cat_colors[:-1]):
    fig.add_trace(go.Scatter(x=[None], y=[None], mode='markers', name=name,
                             marker=dict(symbol='circle-open', size=11, color=col,
                                         line=dict(width=2))))
fig.add_trace(go.Scatter(x=amp, y=peak, mode='markers', name=categories[-1],
                         marker=dict(symbol='circle-open', size=11, color=cat_colors[-1],
                                     line=dict(width=1.8))))

fig.update_layout(
    width=1200, height=900,
    margin=dict(l=103 - pg, r=486 + pg, t=66 - pg, b=101 + pg, autoexpand=False),
    paper_bgcolor='white', plot_bgcolor='white',
    font=dict(family=font_fam, color=axis_col),
    title=dict(text='Minimum spike amplitude (mV) vs. IPSC peak time (ms) (100%, 200%, 400% g incr)',
               x=(1037 - pg) / 1200, xref='container', xanchor='right',
               y=1 - (47 - pg) / 900, yref='container',
               yanchor='middle', font=dict(size=22.8, color='black', weight='bold')),
    showlegend=True,
    legend=dict(x=1.059, y=0.664, xanchor='left', yanchor='top',
                bordercolor=axis_col, borderwidth=1, bgcolor='white',
                font=dict(size=18, color='black'), itemwidth=72),
)
fig.update_xaxes(range=[-50, 30], tickvals=x_ticks, ticktext=x_tick_text, ticks='inside', ticklen=7,
                 tickcolor=axis_col, showline=True, linecolor=axis_col, linewidth=1,
                 mirror='ticks', showgrid=False, zeroline=False, automargin=False,
                 tickfont=dict(size=21), ticklabelstandoff=4,
                 title=dict(text='Minimum spike amplitude (mV)', font=dict(size=23), standoff=10))
fig.update_yaxes(range=[50, 300], tickvals=y_ticks, ticks='inside', ticklen=7,
                 tickcolor=axis_col, showline=True, linecolor=axis_col, linewidth=1,
                 mirror='ticks', showgrid=False, zeroline=False, automargin=False,
                 tickfont=dict(size=21), ticklabelstandoff=4,
                 title=dict(text='IPSC peak time (ms)', font=dict(size=23), standoff=4))
fig.add_annotation(text='Correlation coefficient: ' + str(corr_coef), xref='paper', yref='paper',
                   x=1.1, y=0.9495, xanchor='left', yanchor='middle', showarrow=False,
                   font=dict(size=21, color='black'))

fig.write_html('out.html')
